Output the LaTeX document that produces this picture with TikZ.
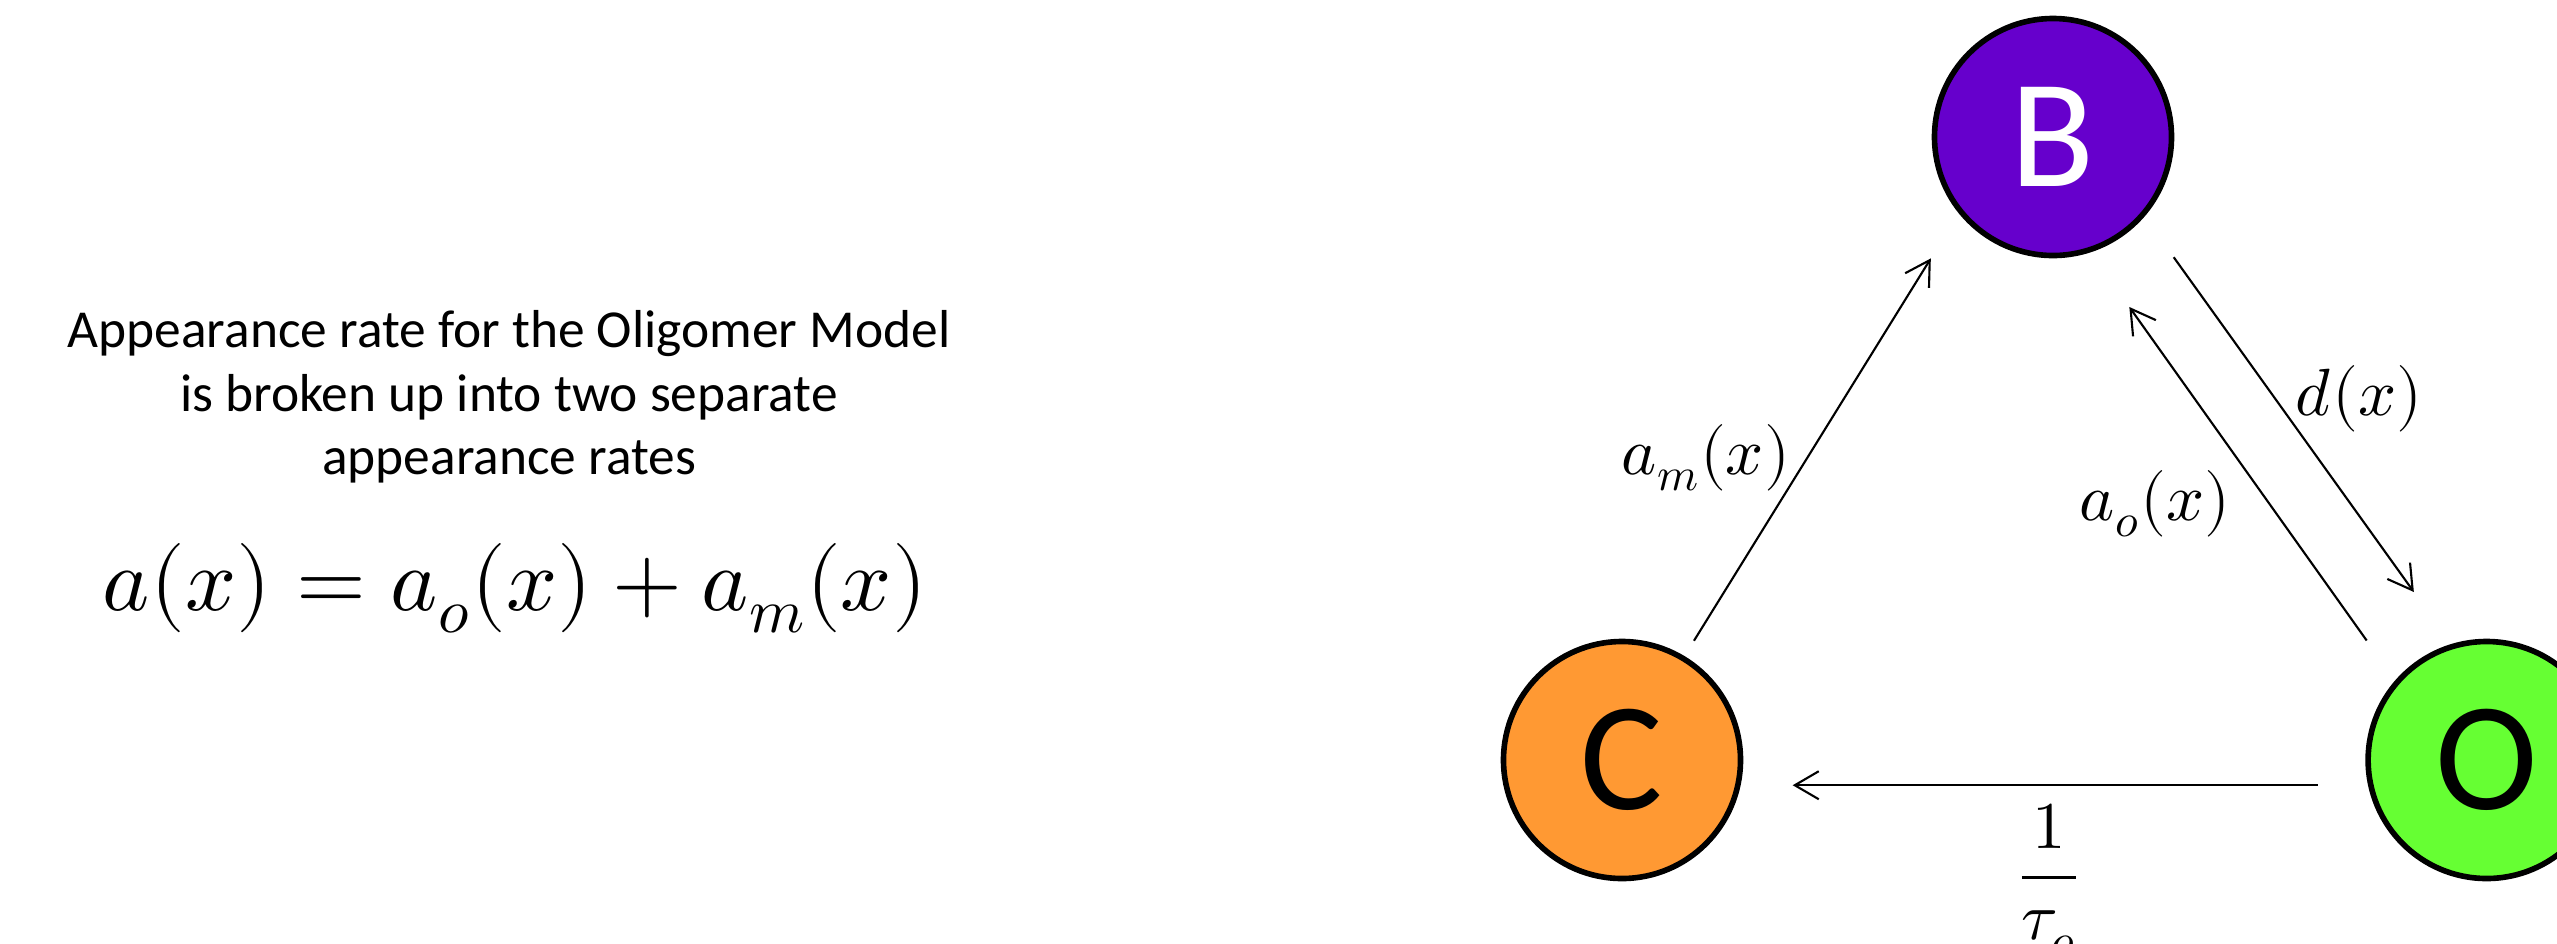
\documentclass[tikz,border=0pt]{standalone}
\usepackage{fontspec}
\usepackage{amsmath}
\usepackage{unicode-math}
\setmainfont{Carlito}
\usetikzlibrary{positioning, arrows.meta}

\definecolor{colB}{RGB}{102,0,204}
\definecolor{colC}{RGB}{255,153,51}
\definecolor{colO}{RGB}{102,255,51}

\begin{document}
\begin{tikzpicture}[
    >={Straight Barb[length=0.24cm, width=0.28cm]},
    species/.style={draw, circle, line width=1.6pt, minimum size=2.37cm, inner sep=0pt, font=\fontsize{44}{44}\selectfont},
    rate/.style={->, line width=0.6pt},
    ratelabel/.style={font=\fontsize{19}{19}\selectfont},
]
\useasboundingbox (0,0) rectangle (25.57,-9.43);

% Description
\node[align=center, font=\fontsize{15.2}{18}\selectfont] (desc) at (5.09,-3.97)
    {Appearance rate for the Oligomer Model\\is broken up into two separate\\appearance rates};
\node[font=\fontsize{25.5}{25.5}\selectfont] (eq) at (5.15,-5.88) {$a(x) = a_o(x) + a_m(x)$};

% Species
\node[species, fill=colC] (C) at (16.22,-7.60) {C};
\node[species, fill=colO, right=6.22cm of C] (O) {O};
\node[species, fill=colB, text=white] (B) at (20.53,-1.37) {B};

% Rates
\draw[rate, shorten <=0.18cm, shorten >=0.53cm] (C.59) -- (B.219);
\draw[rate, shorten <=0.50cm, shorten >=0.64cm] (B.319) -- (O.107);
\draw[rate, shorten <=0.49cm, shorten >=0.67cm] (O.139) -- (B.288);
\draw[rate, shorten <=0.50cm, shorten >=0.52cm] (O.192) -- (C.348);

% Rate labels
\node[ratelabel] (lam) at (17.06,-4.58) {$a_m(x)$};
\node[ratelabel] (ld) at (23.59,-3.99) {$d(x)$};
\node[ratelabel] (lao) at (21.55,-5.04) {$a_o(x)$};
\node[ratelabel, anchor=base] (ltau) at (20.49,-8.94) {$\displaystyle\frac{1}{\tau_o}$};

\end{tikzpicture}
\end{document}
